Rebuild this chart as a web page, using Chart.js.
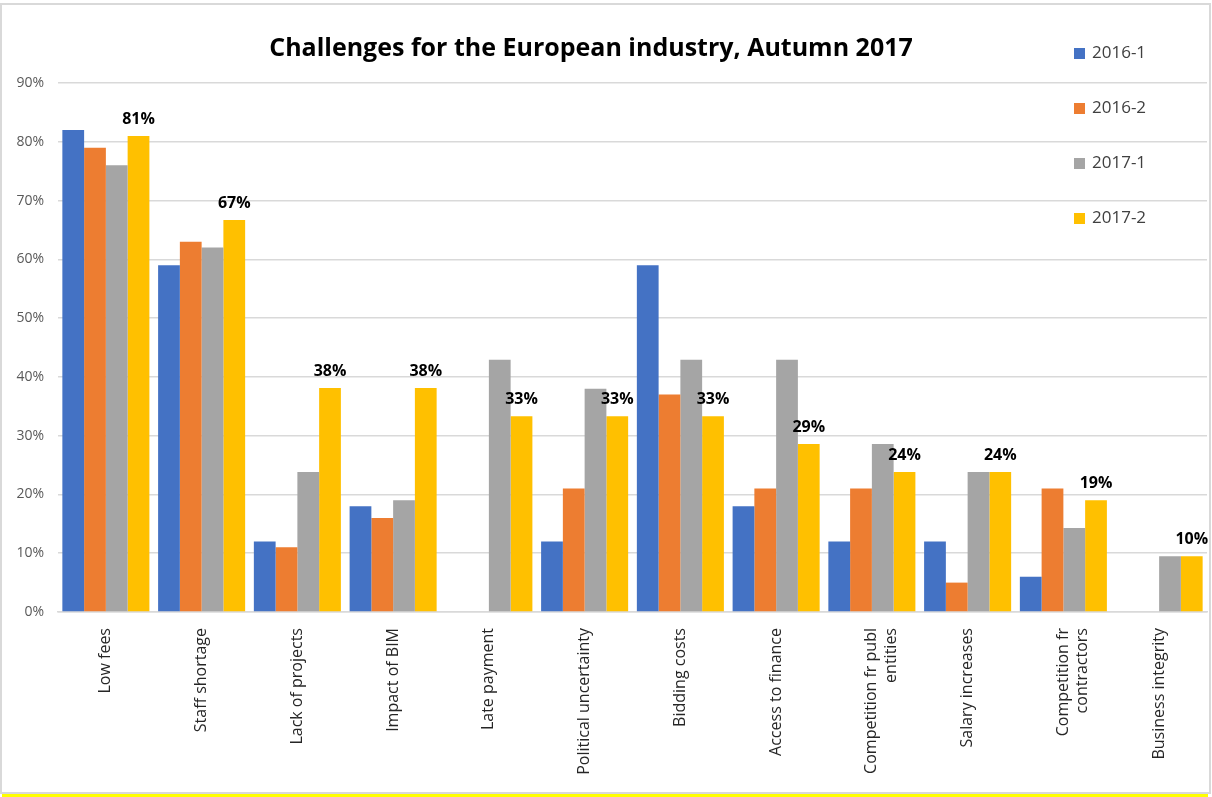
<!DOCTYPE html>
<html>
<head>
<meta charset="utf-8">
<script src="https://cdn.jsdelivr.net/npm/chart.js@4/dist/chart.umd.min.js"></script>
<style>
    html, body { margin: 0; padding: 0; background: #fff; }
    body { width: 1212px; height: 797px; position: relative; overflow: hidden; font-family: "Open Sans", sans-serif; }
    #frame { position: absolute; left: 0; top: 3px; width: 1207px; height: 787px; border: 2px solid #d9d9d9; }
    #yellowBar { position: absolute; left: 2px; top: 794px; width: 1206px; height: 3px; background: #ffff00; }
    #chartTitle { position: absolute; left: 0; top: 30px; width: 1182px; text-align: center;
        font-weight: bold; font-size: 25px; color: #000; line-height: 32px; }
    #legend { position: absolute; left: 1074px; top: 40px; }
    #legend .item { height: 55px; display: flex; align-items: flex-start; font-size: 17px; color: #404040; }
    #legend .box { width: 11px; height: 11px; margin-right: 7px; margin-top: 8px; }
    canvas { position: absolute; left: 0; top: 0; }
</style>
</head>
<body>
<div id="frame"></div>
<div id="yellowBar"></div>
<canvas id="challenges" width="1212" height="797"></canvas>
<div id="chartTitle">Challenges for the European industry, Autumn 2017</div>
<div id="legend"></div>

<script>
// categories (multi-line labels as arrays)
var categories = [
    "Low fees", "Staff shortage", "Lack of projects", "Impact of BIM", "Late payment",
    "Political uncertainty", "Bidding costs", "Access to finance",
    ["Competition fr publ", "entities"], "Salary increases",
    ["Competition fr", "contractors"], "Business integrity"
];

var seriesNames = ["2016-1", "2016-2", "2017-1", "2017-2"];
var seriesColors = ["#4472C4", "#ED7D31", "#A5A5A5", "#FFC000"];

// values in %
var s2016_1 = [82, 59, 12, 18, null, 12, 59, 18, 12, 12, 6, null];
var s2016_2 = [79, 63, 11, 16, null, 21, 37, 21, 21, 5, 21, null];
var s2017_1 = [76, 62, 23.8, 19, 42.9, 38, 42.9, 42.9, 28.6, 23.8, 14.3, 9.5];
var s2017_2 = [81, 66.7, 38.1, 38.1, 33.3, 33.3, 33.3, 28.6, 23.8, 23.8, 19, 9.5];

var yTicks = [0, 10, 20, 30, 40, 50, 60, 70, 80, 90];

// labels over the 2017-2 bars
var pctLabels = {
    id: 'pctLabels',
    afterDatasetsDraw: function(chart) {
        var ctx = chart.ctx;
        var meta = chart.getDatasetMeta(3);
        var vals = chart.data.datasets[3].data;
        ctx.save();
        ctx.font = 'bold 16px "Open Sans", sans-serif';
        ctx.fillStyle = '#000';
        ctx.textAlign = 'center';
        ctx.textBaseline = 'alphabetic';
        meta.data.forEach(function(bar, i) {
            if (vals[i] == null) return;
            ctx.fillText(Math.round(vals[i]) + '%', bar.x, bar.y - 12);
        });
        ctx.restore();
    }
};

var allSeries = [s2016_1, s2016_2, s2017_1, s2017_2];
var datasets = allSeries.map(function(vals, i) {
    return {
        label: seriesNames[i],
        data: vals,
        backgroundColor: seriesColors[i],
        borderWidth: 0,
        categoryPercentage: 0.909,
        barPercentage: 1.0
    };
});

// html legend
var legendEl = document.getElementById('legend');
seriesNames.forEach(function(name, i) {
    var item = document.createElement('div');
    item.className = 'item';
    item.innerHTML = '<span class="box" style="background:' + seriesColors[i] + '"></span><span>' + name + '</span>';
    legendEl.appendChild(item);
});

var ctx = document.getElementById('challenges').getContext('2d');
var challengesChart = new Chart(ctx, {
    type: 'bar',
    data: { labels: categories, datasets: datasets },
    plugins: [pctLabels],
    options: {
        responsive: false,
        animation: false,
        layout: { padding: { top: 83, right: 5, bottom: 0, left: 0 } },
        plugins: {
            legend: { display: false },
            title: { display: false },
            tooltip: { enabled: false }
        },
        scales: {
            x: {
                grid: { display: false },
                border: { color: '#d9d9d9', width: 1.5 },
                ticks: {
                    color: '#262626',
                    font: { family: '"Open Sans", sans-serif', size: 16 },
                    minRotation: 90,
                    maxRotation: 90,
                    autoSkip: false,
                    padding: 8
                },
                afterFit: function(scale) { scale.height = 185; }
            },
            y: {
                min: 0,
                max: 90,
                afterBuildTicks: function(scale) {
                    scale.ticks = yTicks.map(function(v) { return { value: v }; });
                },
                grid: { color: '#d9d9d9', lineWidth: 1.5, drawTicks: false },
                border: { display: false },
                ticks: {
                    color: '#595959',
                    font: { family: '"Open Sans", sans-serif', size: 14 },
                    padding: 14,
                    callback: function(v) { return v + '%'; }
                },
                afterFit: function(scale) { scale.width = 58; }
            }
        }
    }
});
</script>
</body>
</html>
